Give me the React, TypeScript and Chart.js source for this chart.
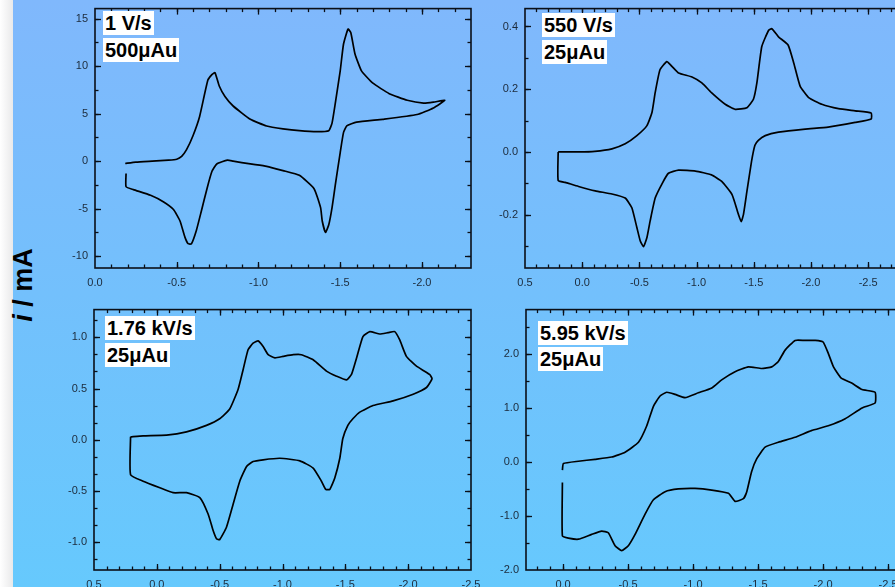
import React, { useEffect, useRef } from "react";
import { Chart, registerables } from "chart.js";

Chart.register(...registerables);

// ---------- Panel 1: 1 V/s ----------
const p1E = [-0.185, -0.25, -0.35, -0.45, -0.5, -0.53, -0.56, -0.6, -0.64, -0.69, -0.715, -0.734, -0.76, -0.795, -0.845, -0.95, -1.05, -1.15, -1.25, -1.36, -1.43, -1.45, -1.47, -1.5, -1.52, -1.548, -1.565, -1.59, -1.63, -1.7, -1.8, -1.91, -2.01, -2.07, -2.14,
  -2.07, -1.97, -1.76, -1.6, -1.54, -1.52, -1.5, -1.47, -1.45, -1.43, -1.41, -1.39, -1.38, -1.34, -1.25, -1.15, -1.05, -0.95, -0.845, -0.81, -0.745, -0.715, -0.685, -0.65, -0.62, -0.59, -0.57, -0.55, -0.52, -0.48, -0.42, -0.34, -0.235, -0.19, -0.19];
const p1I = [-0.25, -0.1, 0.0, 0.1, 0.2, 0.5, 1.2, 2.7, 4.7, 8.5, 9.1, 9.3, 7.9, 6.8, 5.8, 4.4, 3.7, 3.4, 3.2, 3.1, 3.2, 4.0, 6.1, 9.5, 12.3, 13.9, 13.5, 11.3, 9.5, 8.2, 7.1, 6.4, 6.1, 6.2, 6.4,
  5.6, 4.9, 4.4, 4.1, 3.7, 3.0, 0.9, -2.5, -4.9, -6.7, -7.5, -6.3, -4.9, -2.9, -1.5, -1.0, -0.55, -0.3, 0.0, 0.1, -0.3, -1.1, -2.9, -5.3, -7.3, -8.7, -8.7, -8.0, -6.3, -5.1, -4.3, -3.6, -3.0, -2.7, -1.3];
const p1XTicks = [0, -0.5, -1.0, -1.5, -2.0];
const p1YTicks = [-10, -5, 0, 5, 10, 15];

// ---------- Panel 2: 550 V/s ----------
const p2E = [0.21, 0.03, -0.11, -0.26, -0.376, -0.478, -0.566, -0.61, -0.638, -0.68, -0.74, -0.784, -0.842, -0.96, -1.046, -1.13, -1.25, -1.337, -1.44, -1.497, -1.527, -1.57, -1.63, -1.658, -1.716, -1.8, -1.85, -1.905, -1.98, -2.095, -2.24, -2.386, -2.526,
  -2.526, -2.386, -2.15, -1.95, -1.716, -1.6, -1.54, -1.51, -1.48, -1.44, -1.41, -1.39, -1.366, -1.31, -1.22, -1.13, -0.99, -0.842, -0.754, -0.7, -0.638, -0.594, -0.566, -0.536, -0.507, -0.478, -0.434, -0.376, -0.26, -0.114, 0.032, 0.149, 0.21, 0.21];
const p2I = [0.0, 0.0, 0.002, 0.01, 0.026, 0.052, 0.084, 0.126, 0.189, 0.262, 0.288, 0.273, 0.252, 0.239, 0.22, 0.189, 0.152, 0.136, 0.141, 0.168, 0.22, 0.336, 0.388, 0.393, 0.367, 0.341, 0.283, 0.21, 0.173, 0.152, 0.138, 0.131, 0.124,
  0.105, 0.094, 0.079, 0.073, 0.063, 0.052, 0.037, 0.021, -0.031, -0.126, -0.199, -0.222, -0.199, -0.136, -0.094, -0.073, -0.061, -0.058, -0.068, -0.1, -0.147, -0.22, -0.273, -0.302, -0.283, -0.241, -0.178, -0.147, -0.134, -0.124, -0.11, -0.097, -0.091, 0.0];
const p2XTicks = [0.5, 0, -0.5, -1.0, -1.5, -2.0, -2.5];
const p2YTicks = [-0.2, 0.0, 0.2, 0.4];

// ---------- Panel 3: 1.76 kV/s ----------
const p3E = [0.209, 0.109, -0.077, -0.236, -0.395, -0.5, -0.58, -0.647, -0.687, -0.726, -0.766, -0.806, -0.846, -0.886, -0.94, -1.005, -1.085, -1.15, -1.244, -1.35, -1.43, -1.51, -1.55, -1.59, -1.64, -1.695, -1.774, -1.84, -1.893, -1.933, -1.986, -2.066, -2.17, -2.19,
  -2.146, -2.04, -1.88, -1.72, -1.615, -1.56, -1.52, -1.48, -1.456, -1.416, -1.376, -1.344, -1.31, -1.244, -1.138, -0.979, -0.846, -0.766, -0.714, -0.66, -0.607, -0.554, -0.5, -0.475, -0.448, -0.408, -0.342, -0.236, -0.13, -0.024, 0.109, 0.209, 0.209];
const p3I = [0.029, 0.038, 0.045, 0.077, 0.141, 0.205, 0.3, 0.493, 0.686, 0.878, 0.942, 0.965, 0.91, 0.83, 0.8, 0.814, 0.83, 0.83, 0.78, 0.67, 0.62, 0.584, 0.64, 0.8, 1.007, 1.055, 1.032, 1.045, 1.055, 0.974, 0.814, 0.718, 0.638, 0.596,
  0.51, 0.445, 0.38, 0.334, 0.27, 0.205, 0.141, 0.013, -0.18, -0.372, -0.484, -0.484, -0.404, -0.276, -0.205, -0.18, -0.195, -0.212, -0.26, -0.404, -0.628, -0.853, -0.974, -0.965, -0.885, -0.724, -0.564, -0.516, -0.516, -0.468, -0.404, -0.34, 0.029];
const p3XTicks = [0.5, 0, -0.5, -1.0, -1.5, -2.0, -2.5];
const p3YTicks = [-1.0, -0.5, 0.0, 0.5, 1.0];

// ---------- Panel 4: 5.95 kV/s ----------
const p4E = [0.005, -0.003, -0.118, -0.246, -0.374, -0.477, -0.58, -0.644, -0.695, -0.746, -0.797, -0.862, -0.938, -1.04, -1.144, -1.22, -1.323, -1.425, -1.528, -1.605, -1.656, -1.708, -1.785, -1.86, -1.94, -2.0, -2.04, -2.08, -2.14, -2.22, -2.3, -2.4,
  -2.4, -2.3, -2.17, -2.04, -1.91, -1.785, -1.656, -1.554, -1.49, -1.45, -1.413, -1.387, -1.323, -1.272, -1.144, -1.015, -0.887, -0.785, -0.695, -0.63, -0.554, -0.502, -0.451, -0.4, -0.348, -0.297, -0.22, -0.118, -0.041, 0.005, 0.005];
const p4I = [-0.15, -0.03, 0.013, 0.049, 0.091, 0.18, 0.365, 0.67, 1.03, 1.22, 1.29, 1.25, 1.19, 1.28, 1.37, 1.52, 1.67, 1.76, 1.73, 1.76, 1.86, 2.07, 2.25, 2.25, 2.25, 2.22, 2.01, 1.76, 1.55, 1.46, 1.34, 1.29,
  1.09, 1.0, 0.8, 0.67, 0.58, 0.456, 0.365, 0.274, 0.06, -0.18, -0.55, -0.68, -0.73, -0.58, -0.52, -0.49, -0.5, -0.55, -0.7, -0.97, -1.34, -1.55, -1.64, -1.55, -1.31, -1.28, -1.34, -1.43, -1.41, -1.37, -0.38];
const p4XTicks = [0, -0.5, -1.0, -1.5, -2.0, -2.5];
const p4YTicks = [-2.0, -1.0, 0.0, 1.0, 2.0];

const labels1 = ["1 V/s", "500\u03bcAu"];
const labels2 = ["550 V/s", "25\u03bcAu"];
const labels3 = ["1.76 kV/s", "25\u03bcAu"];
const labels4 = ["5.95 kV/s", "25\u03bcAu"];

const PAD_L = 50;
const PAD_T = 10;
const PAD_R = 25;
const PAD_B = 30;

type PanelCfg = {
  left: number; top: number; w: number; h: number;
  E: number[]; I: number[];
  xMin: number; xMax: number; yMin: number; yMax: number;
  xTicks: number[]; yTicks: number[];
  xMinor: number; yMinor: number; yDec: number;
  labels: string[]; labelPos: { x: number; y: number }[];
};

const frameTicks = {
  id: "frameTicks",
  afterDatasetsDraw(chart: any, _args: any, opts: any) {
    const { ctx, chartArea: a, scales } = chart;
    const xs = scales.x, ys = scales.y;
    ctx.save();
    ctx.strokeStyle = "#0a0f18";
    const line = (x1: number, y1: number, x2: number, y2: number) => {
      ctx.beginPath(); ctx.moveTo(x1, y1); ctx.lineTo(x2, y2); ctx.stroke();
    };
    ctx.lineWidth = 1.3;
    const drawX = (v: number, len: number) => {
      const px = Math.round(xs.getPixelForValue(v)) + 0.5;
      if (px < a.left + 1 || px > a.right - 1) return;
      line(px, a.bottom, px, a.bottom - len);
      line(px, a.top, px, a.top + len);
    };
    const drawY = (v: number, len: number) => {
      const py = Math.round(ys.getPixelForValue(v)) + 0.5;
      if (py < a.top + 1 || py > a.bottom - 1) return;
      line(a.left, py, a.left + len, py);
      line(a.right, py, a.right - len, py);
    };
    const minorVals = (min: number, max: number, step: number) => {
      const out: number[] = [];
      const k0 = Math.ceil(min / step - 1e-6), k1 = Math.floor(max / step + 1e-6);
      for (let k = k0; k <= k1; k++) out.push(k * step);
      return out;
    };
    minorVals(xs.min, xs.max, opts.xMinor).forEach((v) => drawX(v, 3.5));
    minorVals(ys.min, ys.max, opts.yMinor).forEach((v) => drawY(v, 3.5));
    (opts.xTicks as number[]).forEach((v) => drawX(v, 6));
    (opts.yTicks as number[]).forEach((v) => drawY(v, 6));
    ctx.lineWidth = 1.6;
    ctx.strokeRect(a.left, a.top, a.right - a.left, a.bottom - a.top);
    ctx.restore();
  },
};

function Panel({ cfg }: { cfg: PanelCfg }) {
  const ref = useRef<HTMLCanvasElement | null>(null);
  const W = cfg.w + PAD_L + PAD_R;
  const H = cfg.h + PAD_T + PAD_B;
  useEffect(() => {
    if (!ref.current) return;
    const pts = cfg.E.map((e, i) => ({ x: e, y: cfg.I[i] }));
    const tickFont = { family: "'Liberation Sans', Arial, sans-serif", size: 11 };
    const chart = new Chart(ref.current, {
      type: "scatter",
      data: {
        datasets: [{
          data: pts,
          showLine: true,
          borderColor: "#000000",
          borderWidth: 1.7,
          pointRadius: 0,
          tension: 0.15,
          fill: false,
        }],
      },
      options: {
        animation: false,
        responsive: false,
        maintainAspectRatio: false,
        layout: { padding: { left: 0, top: PAD_T, right: PAD_R, bottom: 0 } },
        plugins: {
          legend: { display: false },
          tooltip: { enabled: false },
          frameTicks: { xTicks: cfg.xTicks, yTicks: cfg.yTicks, xMinor: cfg.xMinor, yMinor: cfg.yMinor },
        } as any,
        scales: {
          x: {
            type: "linear",
            reverse: true,
            min: cfg.xMin,
            max: cfg.xMax,
            grid: { display: false, drawTicks: false },
            border: { display: false },
            afterBuildTicks: (s: any) => { s.ticks = cfg.xTicks.map((v) => ({ value: v })); },
            afterFit: (s: any) => { s.height = PAD_B; },
            ticks: {
              autoSkip: false, maxRotation: 0, padding: 8, color: "#1c2a3a", font: tickFont,
              callback: (v: any) => Number(v).toFixed(1),
            },
          },
          y: {
            type: "linear",
            min: cfg.yMin,
            max: cfg.yMax,
            grid: { display: false, drawTicks: false },
            border: { display: false },
            afterBuildTicks: (s: any) => { s.ticks = cfg.yTicks.map((v) => ({ value: v })); },
            afterFit: (s: any) => { s.width = PAD_L; },
            ticks: {
              autoSkip: false, padding: 7, color: "#1c2a3a", font: tickFont,
              callback: (v: any) => Number(v).toFixed(cfg.yDec),
            },
          },
        },
      },
      plugins: [frameTicks as any],
    });
    return () => chart.destroy();
  }, []);
  return (
    <>
      <canvas
        ref={ref}
        width={W}
        height={H}
        style={{ position: "absolute", left: cfg.left - PAD_L, top: cfg.top - PAD_T, width: W, height: H }}
      />
      {cfg.labels.map((t, i) => (
        <div
          key={i}
          style={{
            position: "absolute",
            left: cfg.labelPos[i].x,
            top: cfg.labelPos[i].y,
            background: "#ffffff",
            color: "#000",
            font: "bold 20px 'Liberation Sans', Arial, sans-serif",
            lineHeight: "24px",
            padding: "0 2px",
            whiteSpace: "nowrap",
          }}
        >
          {t}
        </div>
      ))}
    </>
  );
}

const panels: PanelCfg[] = [
  {
    left: 95, top: 5, w: 376, h: 263, E: p1E, I: p1I,
    xMin: -2.3, xMax: 0, yMin: -11.25, yMax: 16.05,
    xTicks: p1XTicks, yTicks: p1YTicks, xMinor: 0.1, yMinor: 2.5, yDec: 0,
    labels: labels1, labelPos: [{ x: 103, y: 11 }, { x: 103, y: 38 }],
  },
  {
    left: 525, top: 5, w: 376, h: 263, E: p2E, I: p2I,
    xMin: -2.787, xMax: 0.5, yMin: -0.37, yMax: 0.457,
    xTicks: p2XTicks, yTicks: p2YTicks, xMinor: 0.1, yMinor: 0.1, yDec: 1,
    labels: labels2, labelPos: [{ x: 542, y: 13 }, { x: 542, y: 40 }],
  },
  {
    left: 94, top: 306, w: 377, h: 264, E: p3E, I: p3I,
    xMin: -2.5, xMax: 0.5, yMin: -1.27, yMax: 1.27,
    xTicks: p3XTicks, yTicks: p3YTicks, xMinor: 0.1, yMinor: 0.5 / 3, yDec: 1,
    labels: labels3, labelPos: [{ x: 105, y: 316 }, { x: 105, y: 343 }],
  },
  {
    left: 526, top: 306, w: 376, h: 264, E: p4E, I: p4I,
    xMin: -2.607, xMax: 0.285, yMin: -2.0, yMax: 2.82,
    xTicks: p4XTicks, yTicks: p4YTicks, xMinor: 0.1, yMinor: 0.5, yDec: 1,
    labels: labels4, labelPos: [{ x: 538, y: 321 }, { x: 538, y: 347 }],
  },
];

export default function App() {
  return (
    <div
      style={{
        position: "fixed",
        left: 0,
        top: 0,
        width: 895,
        height: 587,
        overflow: "hidden",
        background: "linear-gradient(to bottom, #80b8fc 0%, #73c0fc 50%, #66c9fd 100%)",
      }}
    >
      <div
        style={{
          position: "absolute", left: 0, top: 0, width: 13, height: 587,
          background: "linear-gradient(to right, #ffffff, #e9e9ea)",
        }}
      />
      {panels.map((p, i) => (
        <Panel key={i} cfg={p} />
      ))}
      <div
        style={{
          position: "absolute",
          left: 24 - 60,
          top: 285 - 16,
          width: 120,
          height: 32,
          lineHeight: "32px",
          textAlign: "center",
          transform: "rotate(-90deg)",
          transformOrigin: "50% 50%",
          font: "bold 27px 'Liberation Sans', Arial, sans-serif",
          color: "#000",
          whiteSpace: "nowrap",
        }}
      >
        <i>i</i>{" / mA"}
      </div>
    </div>
  );
}
